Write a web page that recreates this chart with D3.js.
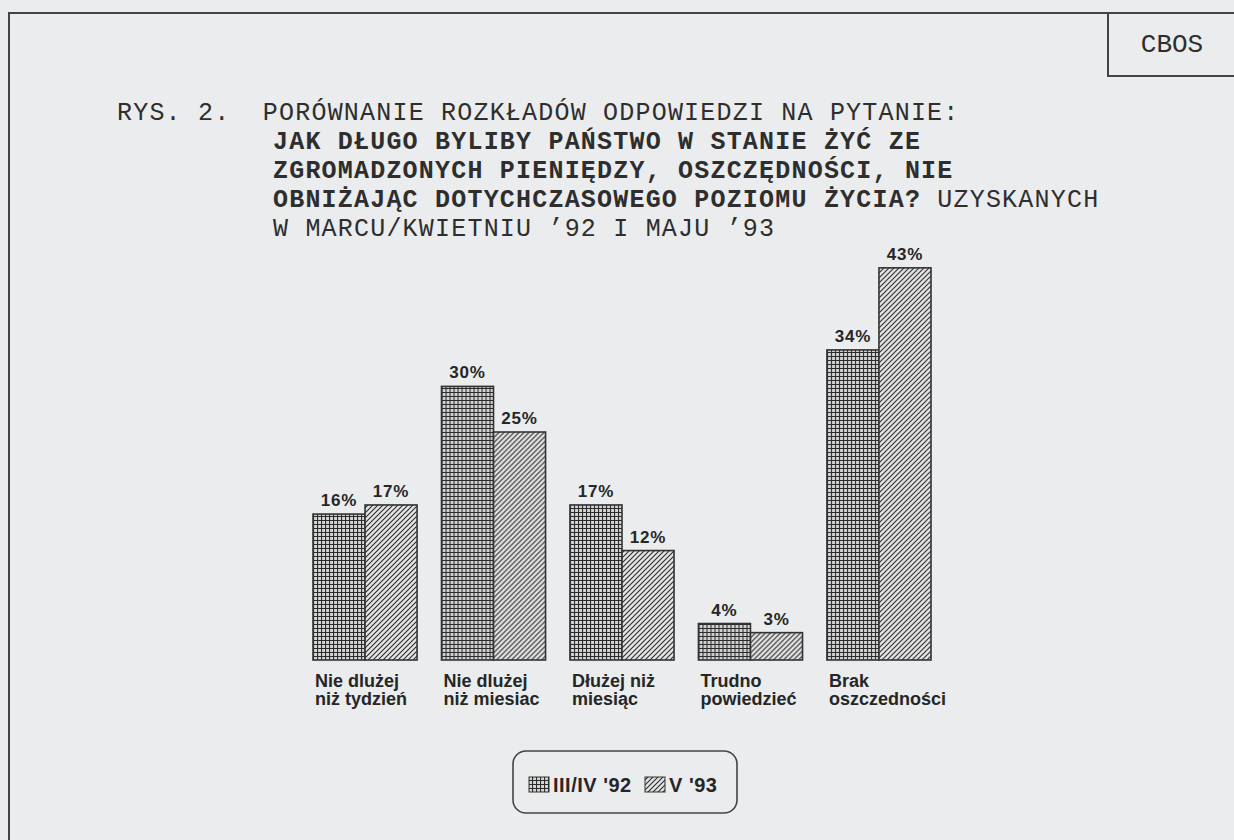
<!DOCTYPE html>
<html lang="pl">
<head>
<meta charset="utf-8">
<title>CBOS rys. 2</title>
<script src="https://cdn.jsdelivr.net/npm/d3@7/dist/d3.min.js"></script>
<style>
  body, html { margin:0; padding:0; background:#eaeced; }
  svg { display:block; }
  .mono { font-family:"Liberation Mono", "Courier New", monospace; fill:#2e2e2e; white-space:pre; }
  .sans { font-family:"Liberation Sans", Arial, sans-serif; font-weight:bold; fill:#262626; }
</style>
</head>
<body>
<svg id="chart" width="1234" height="840"></svg>
<script>
// --- data ---
var categories = ['Nie dlużej|niż tydzień', 'Nie dlużej|niż miesiac', 'Dłużej niż|miesiąc', 'Trudno|powiedzieć', 'Brak|oszczedności'];
var series = ["III/IV '92", "V '93"];
var values92 = [16, 30, 17, 4, 34];
var values93 = [17, 25, 12, 3, 43];

var titleLines = [
  [{t:'RYS. 2.  PORÓWNANIE ROZKŁADÓW ODPOWIEDZI NA PYTANIE:', b:false}],
  [{t:'JAK DŁUGO BYLIBY PAŃSTWO W STANIE ŻYĆ ZE', b:true}],
  [{t:'ZGROMADZONYCH PIENIĘDZY, OSZCZĘDNOŚCI, NIE', b:true}],
  [{t:'OBNIŻAJĄC DOTYCHCZASOWEGO POZIOMU ŻYCIA?', b:true}, {t:' UZYSKANYCH', b:false}],
  [{t:'W MARCU/KWIETNIU ’92 I MAJU ’93', b:false}]
];

var svg = d3.select('#chart');
var ink = '#333';

// patterns
var defs = svg.append('defs');
var grid = defs.append('pattern').attr('id', 'grid').attr('patternUnits', 'userSpaceOnUse')
  .attr('width', 4).attr('height', 4);
grid.append('rect').attr('width', 4).attr('height', 4).attr('fill', '#d6d6d6');
grid.append('path').attr('d', 'M0,0.5H4M0.5,0V4').attr('stroke', '#2b2b2b').attr('stroke-width', 1.2);

var hatch = defs.append('pattern').attr('id', 'hatch').attr('patternUnits', 'userSpaceOnUse')
  .attr('width', 5).attr('height', 5);
hatch.append('rect').attr('width', 5).attr('height', 5).attr('fill', '#e4e4e4');
hatch.append('path').attr('d', 'M-1,1 l2,-2 M0,5 l5,-5 M4,6 l2,-2').attr('stroke', '#2b2b2b').attr('stroke-width', 1.1);

var fills = d3.scaleOrdinal().domain(series).range(['url(#grid)', 'url(#hatch)']);

// frame
svg.append('path').attr('d', 'M9,840V13H1234').attr('fill', 'none').attr('stroke', '#444').attr('stroke-width', 2);
svg.append('path').attr('d', 'M1108,13V76H1234').attr('fill', 'none').attr('stroke', '#444').attr('stroke-width', 2);
svg.append('text').attr('class', 'mono').attr('x', 1172).attr('y', 52)
  .attr('text-anchor', 'middle').style('font-size', '26px').text('CBOS');

// title
var title = svg.append('text').attr('class', 'mono').attr('xml:space', 'preserve')
  .style('font-size', '25px').style('letter-spacing', '1.2px');
titleLines.forEach(function(line, i) {
  line.forEach(function(part, j) {
    var ts = title.append('tspan').text(part.t).style('font-weight', part.b ? 'bold' : 'normal');
    if (j == 0) ts.attr('x', i == 0 ? 117 : 273).attr('y', 120 + i * 29);
  });
});

// scales
var y = d3.scaleLinear().domain([0, 50]).range([660, 204]);
var x = d3.scaleBand().domain(categories).range([313, 931]).paddingInner(0.19).paddingOuter(0);
var xs = d3.scaleBand().domain(series).range([0, x.bandwidth()]);

var rows = categories.map(function(c, i) {
  return { cat: c, vals: [ {s: series[0], v: values92[i]}, {s: series[1], v: values93[i]} ] };
});

var g = svg.selectAll('.grp').data(rows).enter().append('g')
  .attr('class', 'grp').attr('transform', function(d) { return 'translate(' + x(d.cat) + ',0)'; });

g.selectAll('rect').data(function(d) { return d.vals; }).enter().append('rect')
  .attr('x', function(d) { return xs(d.s); })
  .attr('y', function(d) { return y(d.v); })
  .attr('width', xs.bandwidth())
  .attr('height', function(d) { return y(0) - y(d.v); })
  .attr('fill', function(d) { return fills(d.s); })
  .attr('stroke', ink).attr('stroke-width', 1.6);

g.selectAll('.val').data(function(d) { return d.vals; }).enter().append('text')
  .attr('class', 'sans val')
  .attr('x', function(d) { return xs(d.s) + xs.bandwidth() / 2; })
  .attr('y', function(d) { return y(d.v) - 8; })
  .attr('text-anchor', 'middle').style('font-size', '17px').style('letter-spacing', '0.8px')
  .text(function(d) { return d.v + '%'; });

g.each(function(d) {
  var t = d3.select(this).append('text').attr('class', 'sans').style('font-size', '18px');
  d.cat.split('|').forEach(function(s, k) {
    t.append('tspan').attr('x', 2).attr('y', 687 + k * 18).text(s);
  });
});

// legend
var lg = svg.append('g');
lg.append('rect').attr('x', 513).attr('y', 751).attr('width', 224).attr('height', 62).attr('rx', 13)
  .attr('fill', 'none').attr('stroke', '#444').attr('stroke-width', 1.6);
var lx = [529, 645];
series.forEach(function(s, i) {
  lg.append('rect').attr('x', lx[i]).attr('y', 777).attr('width', 20).attr('height', 15)
    .attr('fill', fills(s)).attr('stroke', ink).attr('stroke-width', 1);
  lg.append('text').attr('class', 'sans').attr('x', lx[i] + 24).attr('y', 792)
    .style('font-size', '20px').style('letter-spacing', '0.5px').text(s);
});
</script>
</body>
</html>
